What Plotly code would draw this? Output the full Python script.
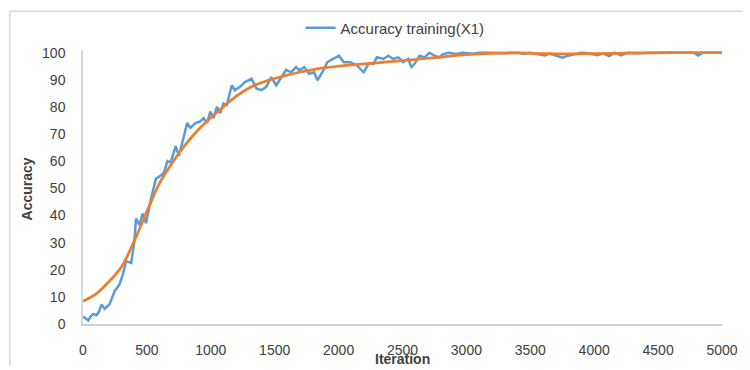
import plotly.graph_objects as go

# Blue series: accuracy during training
iterations = [0, 20, 41, 60, 80, 106, 125, 145, 170, 190, 209, 230, 248, 270, 286, 312, 338, 360, 377,
              402, 415, 441, 467, 493, 532, 570, 609, 635, 660, 686, 725, 751, 790, 815, 841, 880, 918,
              944, 970, 996, 1022, 1048, 1073, 1099, 1125, 1164, 1190, 1228, 1267, 1319, 1357, 1396,
              1434, 1473, 1512, 1550, 1589, 1628, 1667, 1692, 1731, 1770, 1809, 1834, 1873, 1912, 1963,
              2002, 2041, 2092, 2144, 2196, 2234, 2273, 2299, 2350, 2389, 2428, 2467, 2505, 2544, 2570,
              2595, 2634, 2673, 2711, 2750, 2789, 2815, 2866, 2918, 2970, 3050, 3100, 3200, 3300, 3400,
              3450, 3500, 3550, 3615, 3650, 3700, 3754, 3800, 3850, 3900, 3950, 4025, 4070, 4118, 4160,
              4210, 4260, 4350, 4450, 4600, 4700, 4780, 4814, 4850, 5000]
accuracy = [2.8, 2.0, 1.3, 2.8, 3.7, 3.2, 4.5, 7.2, 5.6, 6.5, 7.4, 10.0, 12.2, 13.5, 14.7, 18.3, 23.2, 22.8, 22.5,
            30.4, 38.9, 36.5, 40.7, 37.1, 46.2, 53.5, 54.7, 55.9, 60.1, 59.5, 65.6, 61.9, 69.0, 74.1, 72.3, 74.1, 74.7,
            75.9, 74.1, 78.3, 75.9, 80.1, 77.7, 81.3, 80.7, 88.0, 86.2, 87.4, 89.2, 90.4, 86.8, 86.2,
            87.4, 91.0, 88.0, 91.0, 93.7, 92.8, 94.7, 93.5, 94.7, 92.2, 92.8, 89.8, 92.8, 96.5, 97.7,
            98.9, 96.5, 96.5, 95.3, 92.8, 95.9, 95.9, 98.3, 97.7, 98.9, 97.7, 98.3, 96.5, 97.7, 94.7,
            95.9, 98.9, 98.3, 100, 98.9, 98.3, 99.5, 100, 99.5, 100, 99.6, 100, 100, 99.8, 100,
            99.5, 100, 99.6, 99.0, 99.7, 98.9, 98.2, 99.0, 99.6, 100, 99.8, 99.1, 99.8, 98.8, 100,
            99.0, 100, 99.8, 100, 100, 100, 100, 99.0, 100, 100]

# Orange trend line
trend_iter = [0, 100, 200, 300, 400, 500, 600, 700, 800, 900, 1000, 1100, 1200, 1300, 1400, 1500,
              1600, 1700, 1800, 1900, 2000, 2200, 2400, 2600, 2800, 3000, 3200, 3400, 3600, 3800,
              4000, 4200, 4400, 4600, 4800, 5000]
trend_acc = [8.4, 11.0, 15.5, 21.0, 30.5, 41.5, 52.0, 59.5, 66.0, 71.5, 76.0, 80.2, 84.0, 87.0, 89.0, 90.5,
             91.8, 92.9, 93.8, 94.5, 95.1, 95.9, 96.7, 97.5, 98.4, 99.3, 99.8, 99.9, 99.7, 99.6,
             99.7, 99.8, 99.9, 100, 100, 100]

x_ticks = [0, 500, 1000, 1500, 2000, 2500, 3000, 3500, 4000, 4500, 5000]
y_ticks = [0, 10, 20, 30, 40, 50, 60, 70, 80, 90, 100]

BLUE = "#5B9BD5"
ORANGE = "#ED7D31"
FONT = "Liberation Sans, Arial, sans-serif"
TXT = "#404040"

L, R, T, B = 83, 21, 49.25, 43
W, H = 750, 370
PH = H - T - B
PW = W - L - R

fig = go.Figure()
fig.add_trace(go.Scatter(x=iterations, y=accuracy, mode="lines", name="Accuracy training(X1)",
                         line=dict(color=BLUE, width=2.5)))
fig.add_trace(go.Scatter(x=trend_iter, y=trend_acc, mode="lines", showlegend=False,
                         line=dict(color=ORANGE, width=2.75, shape="spline", smoothing=1.0)))

def px_x(p):
    return (p - L) / PW

def px_y(p):
    return (H - B - p) / PH

fig.update_layout(
    width=W, height=H,
    margin=dict(l=L, r=R, t=T, b=B, pad=0),
    paper_bgcolor="white", plot_bgcolor="white",
    font=dict(family=FONT, size=14, color=TXT),
    showlegend=True,
    legend=dict(orientation="h", x=px_x(303), y=px_y(27), xanchor="left", yanchor="middle",
                font=dict(family=FONT, size=15, color=TXT), bgcolor="rgba(0,0,0,0)",
                itemwidth=30),
    xaxis=dict(range=[0, 5000], tickvals=x_ticks, ticktext=[str(v) for v in x_ticks],
               showgrid=False, zeroline=False, showline=True, linecolor="#d0d0d0", linewidth=1.5,
               ticks="", ticklabelstandoff=12, tickfont=dict(size=14, color=TXT)),
    yaxis=dict(range=[0, 101], tickvals=y_ticks, ticktext=[str(v) for v in y_ticks],
               showgrid=False, zeroline=False, showline=True, linecolor="#d9d9d9", linewidth=1.5,
               ticks="", ticklabelstandoff=13, tickfont=dict(size=14, color=TXT)),
    annotations=[
        dict(text="<b>Iteration</b>", xref="paper", yref="paper", x=px_x(406), y=px_y(362),
             xanchor="center", yanchor="middle", showarrow=False,
             font=dict(family=FONT, size=14, color=TXT)),
        dict(text="<b>Accuracy</b>", xref="paper", yref="paper", x=px_x(26), y=px_y(190),
             xanchor="center", yanchor="middle", showarrow=False, textangle=-90,
             font=dict(family=FONT, size=14, color=TXT)),
    ],
    shapes=[
        dict(type="line", xref="paper", yref="paper", x0=px_x(9), x1=px_x(749.5), y0=px_y(10), y1=px_y(10),
             line=dict(color="#d9d9d9", width=1.5), layer="below"),
        dict(type="line", xref="paper", yref="paper", x0=px_x(9), x1=px_x(9), y0=px_y(10), y1=px_y(369.5),
             line=dict(color="#d9d9d9", width=1.5), layer="below"),
    ],
)

fig.write_html("out.html")
